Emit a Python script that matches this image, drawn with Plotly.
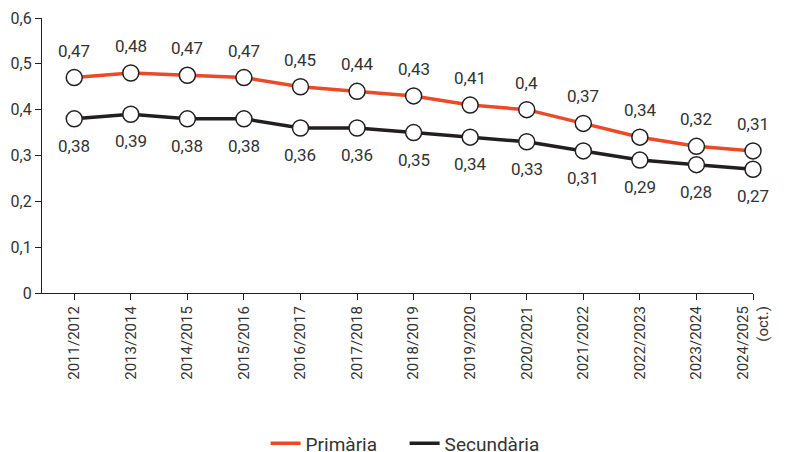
import plotly.graph_objects as go

# school years (last one is the October snapshot)
cursos = ["2011/2012", "2013/2014", "2014/2015", "2015/2016", "2016/2017", "2017/2018",
          "2018/2019", "2019/2020", "2020/2021", "2021/2022", "2022/2023", "2023/2024",
          "2024/2025<br>(oct.)"]
primaria = [0.47, 0.48, 0.475, 0.47, 0.45, 0.44, 0.43, 0.41, 0.40, 0.37, 0.34, 0.32, 0.31]
primaria_txt = ["0,47", "0,48", "0,47", "0,47", "0,45", "0,44", "0,43", "0,41", "0,4", "0,37", "0,34", "0,32", "0,31"]
secundaria = [0.38, 0.39, 0.38, 0.38, 0.36, 0.36, 0.35, 0.34, 0.33, 0.31, 0.29, 0.28, 0.27]
secundaria_txt = ["0,38", "0,39", "0,38", "0,38", "0,36", "0,36", "0,35", "0,34", "0,33", "0,31", "0,29", "0,28", "0,27"]

FONT = "Roboto, sans-serif"
ORANGE = "#ea4a26"
DARK = "#231f20"
TXT = "#333333"

fig = go.Figure()
for name, vals, col in [("Primària", primaria, ORANGE), ("Secundària", secundaria, DARK)]:
    fig.add_trace(go.Scatter(
        x=cursos, y=vals, name=name, mode="lines+markers", showlegend=False,
        line=dict(color=col, width=3.5),
        marker=dict(size=16, color="white", line=dict(color=DARK, width=1.5)),
        cliponaxis=False,
    ))
    # legend entry shows the line only
    fig.add_trace(go.Scatter(x=[None], y=[None], name=name, mode="lines",
                             line=dict(color=col, width=3.5)))

annotations = []
for x, y, t in zip(cursos, primaria, primaria_txt):
    annotations.append(dict(x=x, y=y, text=t, showarrow=False, yshift=27,
                            font=dict(size=17, color=TXT, family=FONT)))
for x, y, t in zip(cursos, secundaria, secundaria_txt):
    annotations.append(dict(x=x, y=y, text=t, showarrow=False, yshift=-27,
                            font=dict(size=17, color=TXT, family=FONT)))

# page body adds 8px, so margins are set 8px smaller on the left/top
fig.update_layout(
    width=786, height=452,
    margin=dict(l=34, r=41, t=10, b=167, autoexpand=False),
    paper_bgcolor="white", plot_bgcolor="white",
    font=dict(family=FONT, size=15, color=TXT),
    annotations=annotations,
    showlegend=True,
    legend=dict(orientation="h", x=0.51, xanchor="center",
                yref="container", y=0.037, yanchor="middle",
                font=dict(size=19, family=FONT, color=TXT), itemwidth=30,
                entrywidth=94, tracegroupgap=0),
)
fig.update_xaxes(
    range=[-0.57, 12], showline=True, linecolor=DARK, linewidth=1.2,
    ticks="outside", ticklen=6, tickcolor=DARK, tickangle=-90, automargin=False,
    showgrid=False, tickfont=dict(size=15, family=FONT, color=TXT),
)
fig.update_yaxes(
    range=[0, 0.6], showline=True, linecolor=DARK, linewidth=1.2, automargin=False,
    ticks="outside", ticklen=6, tickcolor=DARK, showgrid=False, zeroline=False,
    tickvals=[0, 0.1, 0.2, 0.3, 0.4, 0.5, 0.6],
    ticktext=["0", "0,1", "0,2", "0,3", "0,4", "0,5", "0,6"],
    tickfont=dict(size=16, family=FONT, color=TXT),
)

fig.write_html("out.html")
